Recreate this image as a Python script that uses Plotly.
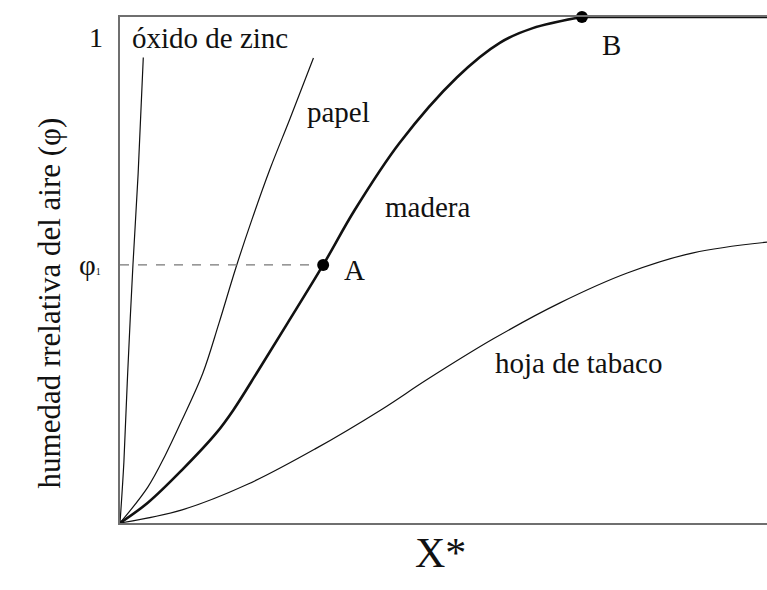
import plotly.graph_objects as go

# Sorption isotherms: relative air humidity (phi) vs equilibrium moisture X*
oxido_x = [0.0, 0.006, 0.012, 0.020, 0.028, 0.036]
oxido_y = [0.0, 0.12, 0.30, 0.51, 0.69, 0.92]

papel_x = [0.0, 0.043, 0.070, 0.096, 0.128, 0.153, 0.179, 0.204, 0.232, 0.263, 0.299]
papel_y = [0.0, 0.071, 0.134, 0.204, 0.296, 0.395, 0.504, 0.600, 0.700, 0.800, 0.919]

madera_x = [0.0, 0.043, 0.096, 0.149, 0.175, 0.214, 0.259, 0.314, 0.363, 0.432, 0.521, 0.587, 0.638, 0.714]
madera_y = [0.0, 0.040, 0.105, 0.178, 0.223, 0.302, 0.395, 0.510, 0.619, 0.751, 0.881, 0.949, 0.978, 1.0]
# saturation plateau of the wood isotherm beyond B
plateau_x = [0.714, 1.0]
plateau_y = [1.0, 1.0]

tabaco_x = [0.0, 0.096, 0.198, 0.301, 0.405, 0.474, 0.577, 0.680, 0.784, 0.886, 1.0]
tabaco_y = [0.0, 0.026, 0.077, 0.146, 0.225, 0.283, 0.364, 0.435, 0.494, 0.534, 0.555]

# Marked points on the wood isotherm
point_labels = ["A", "B"]
point_x = [0.314, 0.714]
point_y = [0.510, 1.0]
phi_1 = point_y[0]

SERIF = "Liberation Serif, Times New Roman, serif"
INK = "#111111"

fig = go.Figure()

thin = dict(color=INK, width=1.2, shape="spline", smoothing=1.0)
fig.add_trace(go.Scatter(x=oxido_x, y=oxido_y, mode="lines", line=thin))
fig.add_trace(go.Scatter(x=papel_x, y=papel_y, mode="lines", line=thin))
fig.add_trace(go.Scatter(x=tabaco_x, y=tabaco_y, mode="lines", line=thin))
thick = dict(color=INK, width=2.6, shape="spline", smoothing=1.0)
fig.add_trace(go.Scatter(x=madera_x, y=madera_y, mode="lines", cliponaxis=False, line=thick))
fig.add_trace(go.Scatter(x=plateau_x, y=plateau_y, mode="lines", cliponaxis=False,
                         line=dict(color=INK, width=2.6)))

# Dashed guide from the axis to point A
fig.add_trace(go.Scatter(x=[0, point_x[0]], y=[phi_1, phi_1], mode="lines",
                         line=dict(color="#777777", width=1.3, dash="dash")))

fig.add_trace(go.Scatter(x=point_x, y=point_y, mode="markers", cliponaxis=False,
                         marker=dict(color="black", size=12)))

labels = [
    ("óxido de zinc", 0.0155, 0.958),
    ("papel", 0.286, 0.812),
    ("madera", 0.406, 0.625),
    ("hoja de tabaco", 0.576, 0.316),
    (point_labels[0], 0.343, 0.50),
    (point_labels[1], 0.742, 0.945),
]
for txt, ax, ay in labels:
    fig.add_annotation(x=ax, y=ay, xref="x", yref="y", text=txt, showarrow=False,
                       xanchor="left", yanchor="middle",
                       font=dict(family=SERIF, size=29, color=INK))

# Axis marks and titles
fig.add_annotation(x=-0.051, y=0.994, xref="paper", yref="paper", text="1",
                   showarrow=False, font=dict(family=SERIF, size=28, color=INK))
fig.add_annotation(x=-0.066, y=phi_1, xref="paper", yref="paper",
                   text="φ<span style='font-size:10px'>1</span>", xanchor="left",
                   showarrow=False, font=dict(family=SERIF, size=29, color=INK))
fig.add_annotation(x=-0.139, y=0.435, xref="paper", yref="paper",
                   text="humedad rrelativa del aire (φ)", textangle=-90,
                   showarrow=False, font=dict(family=SERIF, size=31, color=INK))
fig.add_annotation(x=0.495, y=-0.059, xref="paper", yref="paper", text="X*",
                   showarrow=False, yanchor="middle",
                   font=dict(family=SERIF, size=42, color=INK))

fig.update_layout(
    width=767, height=590,
    margin=dict(l=120, r=0, t=17, b=67),
    paper_bgcolor="white", plot_bgcolor="white",
    showlegend=False,
    xaxis=dict(range=[0, 1], showgrid=False, zeroline=False, showticklabels=False,
               ticks="", showline=True, mirror=True, linecolor="#6f6f6f", linewidth=1.5),
    yaxis=dict(range=[0, 1], showgrid=False, zeroline=False, showticklabels=False,
               ticks="", showline=True, linecolor="#6f6f6f", linewidth=1.5),
)

fig.write_html("out.html")
